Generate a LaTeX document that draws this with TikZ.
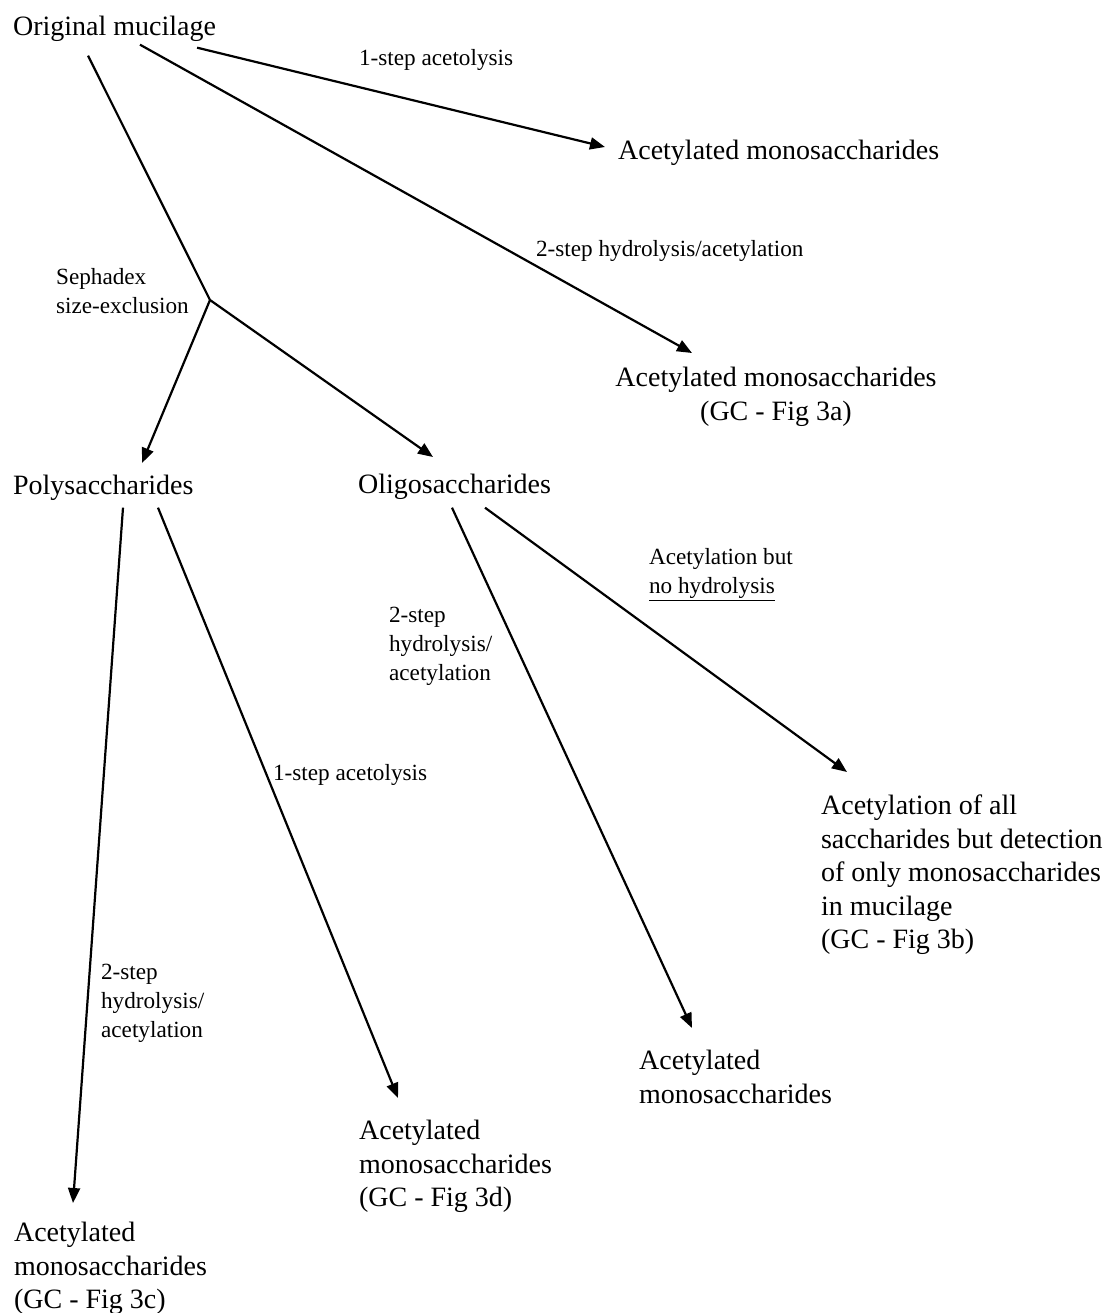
\documentclass[tikz,border=0pt]{standalone}
\usepackage{fontspec}
\setmainfont{Liberation Serif}
\usetikzlibrary{arrows.meta,calc}

\begin{document}
\begin{tikzpicture}[x=0.5pt,y=-0.5pt,>={Triangle[length=7.5pt,width=6pt]},line width=1.1pt,
                    main node/.style={inner sep=0pt,anchor=north west,align=left,font=\fontsize{14}{16.75}\selectfont},
                    step node/.style={inner sep=0pt,anchor=north west,align=left,font=\fontsize{11.6}{14.4}\selectfont}]
  \useasboundingbox (0,0) rectangle (1110,1313);
  % products and fractions
  \node[main node] (orig) at (12,15) {Original mucilage};
  \node[main node] (acetA) at (617,139) {Acetylated monosaccharides};
  \node[main node,anchor=north,align=center] (acetB) at (776,366) {Acetylated monosaccharides\\(GC - Fig 3a)};
  \node[main node] (poly) at (12,474) {Polysaccharides};
  \node[main node] (oligo) at (357,473) {Oligosaccharides};
  \node[main node] (acetAll) at (820,794) {Acetylation of all\\saccharides but detection\\of only monosaccharides\\in mucilage\\(GC - Fig 3b)};
  \node[main node] (acetE) at (638,1049) {Acetylated\\monosaccharides};
  \node[main node] (acetD) at (358,1119) {Acetylated\\monosaccharides\\(GC - Fig 3d)};
  \node[main node] (acetC) at (13,1221) {Acetylated\\monosaccharides\\(GC - Fig 3c)};
  % treatments
  \node[step node] (oneStepA) at (358,48) {1-step acetolysis};
  \node[step node] (twoStepA) at (535,239) {2-step hydrolysis/acetylation};
  \node[step node] (sephadex) at (55,267) {Sephadex\\size-exclusion};
  \node[step node] (noHydro) at (648,547) {Acetylation but\\\underline{no hydrolysis}};
  \node[step node] (twoStepO) at (388,606) {2-step\\hydrolysis/\\acetylation};
  \node[step node] (oneStepP) at (272,763) {1-step acetolysis};
  \node[step node] (twoStepP) at (100,963) {2-step\\hydrolysis/\\acetylation};
  \coordinate (split) at (210,300);
  \path[->]
    ($(orig.south east)+(-20,5)$) edge ($(acetA.north west)+(-12,8)$)
    ($(orig.south west)+(128,2)$) edge ($(acetB.north)+(-84,-13)$)
    ($(orig.south west)+(76,13)$) edge[-] (split)
    (split) edge ($(poly.north west)+(130,-11)$)
            edge ($(oligo.north west)+(76,-16)$)
    ($(poly.south west)+(111,6)$) edge ($(acetC.north west)+(60,-18)$)
    ($(poly.south west)+(146,6)$) edge ($(acetD.north west)+(40,-21)$)
    ($(oligo.south west)+(95,7)$) edge ($(acetE.north west)+(54,-21)$)
    ($(oligo.south west)+(128,7)$) edge ($(acetAll.north west)+(27,-22)$);
\end{tikzpicture}
\end{document}
